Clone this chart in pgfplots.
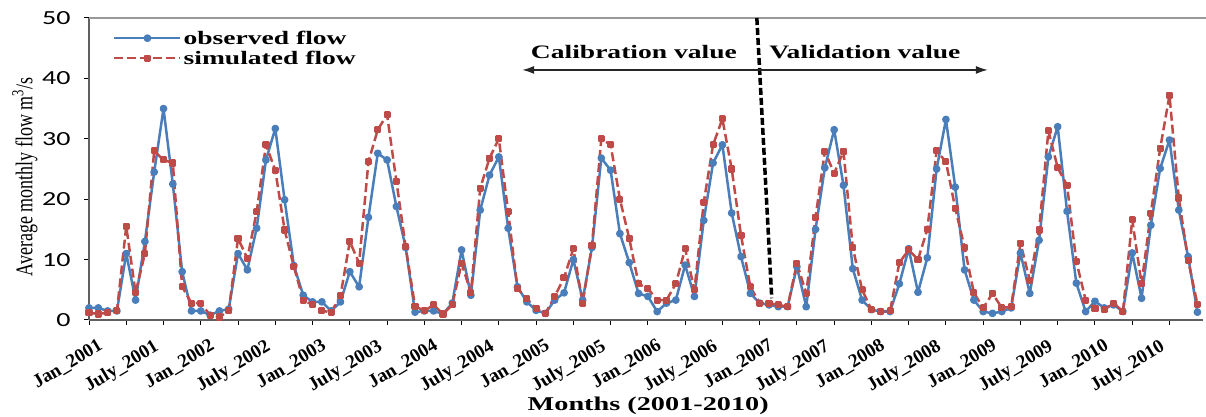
\documentclass[border=0pt]{standalone}
\usepackage{fontspec}
\setmainfont[FakeStretch=1.4]{Carlito}
\newfontfamily\lblfont[FakeStretch=1.45]{Liberation Serif}
\newfontfamily\ylblfont[FakeStretch=0.75]{Liberation Serif}
\newfontfamily\xtfont{Liberation Serif}
\usepackage{pgfplots}
\usepackage{pgfplotstable}
\pgfplotsset{compat=1.18}
\usetikzlibrary{arrows.meta}
\definecolor{obsblue}{HTML}{4A7EBB}
\definecolor{simred}{HTML}{BE4B48}
\pgfplotstableread{
i obs sim
0 2 1.2
1 2 1
2 1.5 1.2
3 1.5 1.5
4 11 15.5
5 3.3 4.5
6 13 11
7 24.5 28
8 35 26.5
9 22.5 26
10 8 5.5
11 1.5 2.8
12 1.5 2.8
13 0.8 0.8
14 1.5 0.5
15 1.8 1.5
16 11 13.5
17 8.3 10.2
18 15.2 17.9
19 26.5 29
20 31.7 24.8
21 19.9 14.9
22 9 8.8
23 4.1 3.3
24 3 2.5
25 3 1.5
26 1.5 1.3
27 3 4
28 8 13
29 5.5 9.4
30 17 26.2
31 27.6 31.5
32 26.5 34
33 18.8 23
34 12 12.1
35 1.3 2.3
36 1.5 1.5
37 1.5 2.5
38 1 1
39 2.8 2.5
40 11.6 9.4
41 4.1 4.5
42 18.2 21.8
43 24 26.8
44 27 30
45 15.2 17.9
46 5.5 5.2
47 3 3.5
48 1.6 1.9
49 1.1 1.1
50 3.3 3.9
51 4.5 7
52 10 11.8
53 3.3 2.8
54 12 12.4
55 26.8 30
56 24.8 29
57 14.3 20
58 9.5 13.5
59 4.4 6
60 3.9 5.2
61 1.4 3.3
62 2.8 3.3
63 3.3 6
64 9.1 11.8
65 3.9 5
66 16.5 19.5
67 26 29
68 29 33.3
69 17.7 25
70 10.5 14
71 4.4 5.5
72 2.8 2.8
73 2.5 2.8
74 2.2 2.5
75 2.2 2.2
76 8.8 9.4
77 2.2 4.4
78 15 17
79 25.2 27.9
80 31.5 24.3
81 22.3 27.9
82 8.5 12
83 3.3 5
84 1.7 1.7
85 1.4 1.4
86 1.4 1.5
87 6 9.5
88 11.8 11.6
89 4.6 10
90 10.3 15
91 25 28
92 33.2 26.2
93 22 18.5
94 8.3 12
95 3.3 4.5
96 1.4 2
97 1.1 4.4
98 1.4 2
99 2 2.2
100 11.1 12.7
101 4.4 6.6
102 13.2 14.9
103 27 31.3
104 32 25.2
105 18 22.3
106 6.1 9.7
107 1.4 3.3
108 3.1 1.9
109 2 1.7
110 2.5 2.8
111 1.4 1.4
112 11.1 16.6
113 3.6 6
114 15.7 17.7
115 25.1 28.4
116 29.8 37.2
117 18.2 20.2
118 10.5 9.9
119 1.3 2.6
}\flowdata
\begin{document}
\begin{tikzpicture}
\useasboundingbox (0,0) rectangle (1206pt,417pt);
\begin{axis}[
  at={(89pt,97pt)}, anchor=south west,
  scale only axis, width=1114pt, height=302pt,
  xmin=0, xmax=119.6, ymin=0, ymax=50,
  clip=false,
  axis lines*=left,
  axis line style={gray!75!black, line width=2pt, -},
  ytick={0,10,...,50},
  xtick={0,6,...,114},
  xticklabels={Jan\_2001,July\_2001,Jan\_2002,July\_2002,Jan\_2003,July\_2003,Jan\_2004,July\_2004,Jan\_2005,July\_2005,Jan\_2006,July\_2006,Jan\_2007,July\_2007,Jan\_2008,July\_2008,Jan\_2009,July\_2009,Jan\_2010,July\_2010},
  minor xtick={0,4,...,116},
  tick align=outside,
  major x tick style={draw=none},
  minor x tick style={black, line width=1pt},
  y tick style={black, line width=1pt},
  major tick length=5pt, minor tick length=5pt,
  /pgf/number format/assume math mode=true,
  yticklabel style={font=\fontsize{20}{20}\selectfont, xshift=-10pt},
  xticklabel style={font=\xtfont\bfseries\fontsize{19}{19}\selectfont, xshift=8pt, yshift=-13pt, rotate=31, anchor=north east, inner sep=0pt},
  ylabel={Average monthly flow m\textsuperscript{3}/s},
  ylabel style={font=\ylblfont\fontsize{24}{24}\selectfont, at={(rel axis cs:-0.0575,0.4735)}, anchor=center},
  xlabel={Months (2001-2010)},
  xlabel style={font=\lblfont\bfseries\fontsize{19.5}{19.5}\selectfont, at={(rel axis cs:0.502,-0.283)}, anchor=center},
  legend style={at={(rel axis cs:0.0215,0.965)}, anchor=north west, draw=none, fill=none,
    font=\lblfont\bfseries\fontsize{19}{21}\selectfont, row sep=1pt, inner sep=0pt},
  legend cell align=left,
  legend image code/.code={\draw[mark repeat=2,mark phase=2,#1] plot coordinates {(0pt,0pt) (33pt,0pt) (66pt,0pt)};},
]
\addplot[obsblue, line width=2.5pt, line join=round, mark=*, mark size=2.6pt] table[x=i,y=obs] {\flowdata};
\addlegendentry{observed flow}
\addplot[simred, line width=2.5pt, line join=round, dash pattern=on 9pt off 4pt, mark=square*, mark size=2.3pt, mark options={solid}] table[x=i,y=sim] {\flowdata};
\addlegendentry{simulated flow}
\draw[gray!80, line width=1.5pt] (rel axis cs:0,1) -- (rel axis cs:1.003,1);
\draw[black, line width=3.5pt, dash pattern=on 7pt off 3pt] (axis cs:71.7,50) -- (axis cs:73.3,3.6);
\draw[{Latex[length=12pt,width=8pt]}-{Latex[length=12pt,width=8pt]}, line width=1.5pt, black!85] (axis cs:46.5,41.4) -- (axis cs:96.5,41.4);
\node[font=\lblfont\bfseries\fontsize{19}{19}\selectfont] at (axis cs:58.5,44.4) {Calibration value};
\node[font=\lblfont\bfseries\fontsize{19}{19}\selectfont] at (axis cs:83.3,44.4) {Validation value};
\end{axis}
\end{tikzpicture}
\end{document}
